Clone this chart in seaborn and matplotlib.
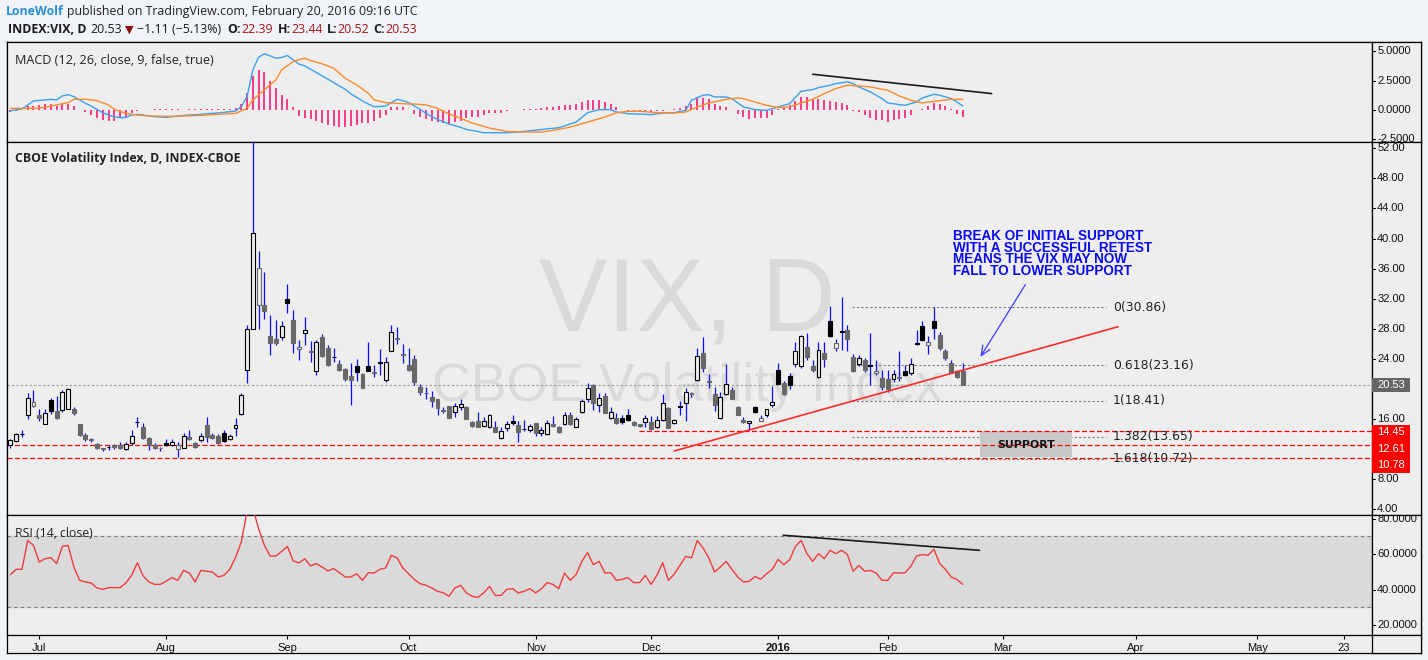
import numpy as np
import pandas as pd
import matplotlib
matplotlib.use("Agg")
import matplotlib.pyplot as plt
import seaborn as sns
from matplotlib.patches import Rectangle

# ---------------- data ----------------
open_ = [12.6, 13.1, 14.0, 16.6, 17.7, 16.6, 15.4, 18.5, 17.1, 17.2, 17.4, 17.4, 15.3, 13.9, 13.4, 12.7, 12.1, 12.22, 12.6, 12.6,
         12.0, 12.8, 15.55, 14.9, 13.5, 12.6, 12.2, 12.8, 12.6, 12.0, 12.1, 13.6, 12.8, 13.2, 15.2, 13.9, 13.8, 14.2, 13.3, 14.8,
         16.7, 22.5, 28.03, 31.1, 31.2, 27.1, 26.7, 26.9, 32.0, 29.2, 25.3, 27.4, 25.1, 22.4, 26.9, 25.5, 24.3, 23.3, 22.7, 21.7,
         23.1, 22.0, 23.0, 22.2, 23.52, 21.2, 25.0, 26.6, 24.6, 23.2, 24.0, 20.3, 19.5, 18.9, 18.7, 17.15, 17.7, 17.0, 17.6, 17.6,
         15.65, 15.7, 15.1, 15.0, 15.0, 13.44, 14.8, 15.7, 15.2, 14.7, 14.5, 15.5, 14.2, 14.0, 15.3, 15.0, 15.3, 16.6, 15.0, 17.0,
         18.6, 20.5, 17.9, 19.1, 16.2, 16.2, 16.2, 16.5, 15.6, 15.35, 15.6, 15.6, 15.0, 15.9, 17.5, 15.5, 17.75, 18.1, 19.45, 21.2,
         24.8, 21.0, 19.3, 16.1, 19.3, 19.8, 17.6, 15.9, 15.45, 17.6, 15.8, 16.5, 17.9, 22.5, 20.75, 21.7, 23.3, 23.0, 25.6, 23.1,
         21.6, 24.8, 29.0, 25.4, 27.7, 27.8, 24.2, 23.3, 23.85, 23.2, 22.1, 21.5, 21.3, 21.3, 21.4, 22.4, 22.1, 26.1, 28.4, 25.8,
         29.0, 27.2, 25.05, 23.4, 22.4, 22.39]
high = [13.4, 14.1, 14.5, 19.5, 19.9, 17.3, 17.4, 18.8, 19.1, 19.9, 20.1, 17.6, 15.4, 14.1, 13.5, 12.8, 12.1, 12.5, 12.7, 12.9,
        13.0, 14.6, 16.3, 15.5, 13.6, 12.8, 12.3, 13.3, 13.3, 13.0, 14.2, 14.5, 12.9, 14.2, 16.3, 14.1, 14.0, 14.6, 14.0, 16.1,
        19.5, 28.5, 53.29, 38.3, 35.6, 29.9, 29.2, 29.1, 34.0, 30.5, 26.5, 29.6, 26.4, 26.5, 27.3, 25.9, 25.4, 23.9, 22.8, 23.5,
        24.0, 22.1, 26.3, 23.2, 25.3, 24.3, 28.5, 28.2, 26.0, 25.4, 24.5, 20.6, 20.3, 19.7, 18.7, 17.6, 17.7, 18.1, 18.6, 17.7,
        15.8, 16.9, 16.3, 16.7, 15.8, 15.0, 15.8, 16.5, 15.7, 15.9, 15.4, 15.5, 15.0, 15.9, 16.4, 15.1, 17.0, 16.9, 16.3, 18.7,
        20.75, 20.6, 19.4, 19.5, 17.6, 16.8, 16.5, 17.3, 15.7, 15.4, 16.5, 16.4, 16.4, 19.3, 17.6, 16.0, 18.4, 20.1, 19.6, 25.4,
        26.95, 22.0, 20.2, 19.6, 23.3, 20.3, 17.7, 16.3, 15.8, 17.8, 16.5, 17.4, 20.4, 23.5, 21.0, 22.1, 26.2, 27.2, 27.5, 23.9,
        26.3, 26.3, 31.0, 26.6, 32.2, 28.5, 24.6, 24.5, 24.1, 27.4, 23.8, 22.5, 22.5, 22.5, 25.0, 23.2, 24.1, 27.9, 29.0, 27.0,
        30.9, 27.6, 25.3, 23.9, 22.5, 23.44]
low = [12.1, 12.9, 13.6, 16.0, 17.6, 15.8, 15.3, 16.7, 16.0, 16.9, 17.3, 16.6, 13.8, 13.1, 13.0, 12.0, 11.8, 11.9, 12.0, 12.0,
       11.9, 12.6, 15.0, 13.3, 11.9, 12.0, 11.8, 12.4, 12.4, 11.0, 12.1, 13.2, 12.2, 13.0, 13.0, 13.3, 12.7, 12.9, 13.2, 13.8,
       16.5, 20.8, 28.0, 28.0, 29.3, 24.5, 25.9, 26.5, 30.1, 24.8, 23.8, 25.8, 23.6, 21.8, 24.3, 23.1, 23.6, 22.4, 21.1, 17.9,
       21.1, 20.1, 22.4, 21.6, 21.9, 20.9, 25.0, 26.0, 23.4, 22.4, 20.5, 19.2, 18.7, 17.6, 16.5, 16.8, 16.1, 16.3, 17.2, 16.0,
       14.9, 14.9, 14.9, 14.8, 14.3, 13.3, 14.4, 15.2, 12.9, 14.4, 14.3, 13.7, 13.7, 13.9, 14.95, 14.2, 15.2, 15.2, 14.9, 16.8,
       18.3, 17.2, 17.0, 16.8, 16.0, 15.3, 15.3, 15.8, 15.1, 14.9, 15.0, 14.5, 14.8, 15.8, 14.8, 15.4, 16.5, 15.8, 18.9, 21.0,
       22.3, 20.1, 17.1, 16.0, 19.2, 18.6, 16.5, 15.5, 14.5, 16.8, 15.7, 16.3, 17.6, 20.6, 19.2, 20.0, 22.9, 22.8, 23.9, 22.3,
       21.5, 22.9, 26.9, 25.0, 25.2, 25.1, 22.2, 23.1, 22.3, 20.5, 21.8, 19.9, 19.6, 20.9, 21.0, 21.7, 21.9, 25.8, 26.4, 24.6,
       26.7, 25.2, 23.9, 22.1, 21.5, 20.52]
close = [13.26, 14.01, 14.02, 18.85, 18.23, 16.09, 16.79, 17.01, 16.09, 19.66, 19.97, 16.83, 13.90, 13.37, 13.23, 12.11, 11.95, 12.25, 12.22, 12.12,
         12.64, 13.74, 15.60, 13.44, 12.50, 12.13, 12.12, 12.56, 13.00, 12.51, 13.77, 13.39, 12.23, 13.71, 13.61, 13.49, 12.83, 13.02, 13.79, 15.25,
         19.14, 28.03, 40.74, 36.02, 30.32, 26.10, 26.05, 28.43, 31.40, 26.09, 25.61, 27.80, 24.90, 26.23, 24.37, 23.20, 24.25, 22.54, 21.35, 21.14,
         22.28, 20.14, 22.44, 22.13, 23.47, 23.62, 27.63, 26.83, 24.50, 22.55, 20.94, 19.54, 19.40, 18.40, 17.42, 17.08, 16.17, 17.67, 18.03, 16.05,
         15.05, 14.98, 15.70, 16.60, 14.33, 14.37, 15.29, 15.43, 14.33, 14.61, 15.07, 14.15, 14.54, 15.51, 15.05, 14.33, 16.52, 15.30, 16.00, 18.40,
         20.08, 18.10, 18.84, 16.85, 16.99, 15.47, 15.62, 15.93, 15.19, 15.12, 16.13, 14.67, 15.90, 18.11, 14.81, 15.84, 17.60, 19.61, 19.34, 24.39,
         22.73, 20.95, 17.86, 18.94, 20.70, 18.70, 16.60, 15.57, 15.74, 16.91, 16.08, 17.29, 18.21, 20.70, 19.34, 20.59, 24.99, 27.01, 24.30, 22.47,
         25.22, 23.95, 27.02, 26.05, 27.59, 26.69, 22.34, 24.15, 22.50, 23.11, 22.42, 20.20, 19.98, 21.98, 21.65, 21.84, 23.38, 26.00, 26.54, 26.29,
         28.14, 25.40, 24.11, 22.31, 21.64, 20.53]

macd_bars = [0, 2, 4, 6, 7, 8, 9, 10, 11, 12, 13, 14, 15, 16, 17, 18, 19, 20, 21, 22, 23, 25, 27, 29, 31, 33, 35, 37, 39, 40,
             41, 42, 43, 44, 45, 46, 47, 48, 49, 50, 51, 52, 53, 54, 55, 56, 57, 58, 59, 60, 61, 62, 63, 64, 65, 66, 67, 68, 69, 70,
             71, 72, 73, 74, 75, 76, 77, 78, 79, 80, 82, 86, 89, 92, 95, 98, 100, 102, 104, 105, 107, 110, 111, 113, 115, 117, 118, 120,
             121, 122, 124, 125, 127, 129, 131, 132, 134, 135, 137, 139, 140, 142, 143, 145, 146, 147, 149, 151, 152, 154, 155, 157, 158,
             160, 161, 163, 164, 165]
macd_vals = [-0.06, 0.09, 0.77, 0.86, 0.91, 0.86, 1.20, 1.31, 1.14, 0.86, 0.57, 0.34, 0.06, -0.23, -0.43, -0.57, -0.66, -0.63, -0.43, -0.37,
             -0.43, -0.57, -0.63, -0.51, -0.43, -0.37, -0.29, -0.20, -0.09, 0.29, 1.14, 3.42, 4.51, 4.79, 4.62, 4.42, 4.48, 4.65, 4.28, 3.91,
             3.77, 3.48, 3.20, 2.91, 2.63, 2.34, 2.05, 1.77, 1.37, 1.08, 0.77, 0.51, 0.29, 0.29, 0.34, 0.63, 0.91, 0.80, 0.63, 0.34,
             0.06, -0.29, -0.57, -0.80, -1.00, -1.20, -1.34, -1.48, -1.66, -1.74, -1.94, -1.94, -1.83, -1.66, -1.51, -1.03, -0.23, 0.03,
             0.03, -0.17, -0.31, -0.37, -0.40, -0.26, -0.23, -0.03, 0.83, 1.26, 1.31, 1.11, 1.11, 0.97, 0.26, 0.03, -0.03, 0.11, 0.40,
             0.54, 1.60, 1.74, 1.91, 2.11, 2.25, 2.40, 2.25, 1.97, 1.54, 0.97, 0.60, 0.46, 0.40, 0.68, 1.03, 1.34, 1.26, 0.97, 0.68, 0.34]
signal_bars = [0, 2, 4, 6, 7, 10, 11, 13, 15, 17, 18, 20, 22, 24, 27, 30, 33, 36, 39, 41, 42, 44, 46, 47, 49, 51, 52, 54, 56, 58,
               60, 62, 63, 65, 67, 69, 70, 72, 74, 76, 78, 80, 83, 86, 89, 92, 94, 97, 100, 103, 105, 107, 109, 112, 115, 117, 119,
               121, 124, 126, 127, 129, 131, 133, 135, 137, 139, 141, 143, 145, 147, 149, 152, 154, 156, 158, 160, 163, 165]
signal_vals = [0.14, 0.14, 0.14, 0.23, 0.34, 0.63, 0.91, 0.91, 0.80, 0.43, 0.06, -0.29, -0.43, -0.51, -0.54, -0.51, -0.46, -0.37, -0.29, 0.14,
               0.86, 1.71, 2.57, 3.42, 4.14, 4.42, 4.22, 3.94, 3.57, 2.71, 2.14, 1.43, 0.86, 0.63, 0.57, 0.51, 0.51, 0.43, 0.14, -0.34,
               -0.71, -1.11, -1.54, -1.83, -1.88, -1.88, -1.74, -1.46, -1.03, -0.60, -0.23, -0.11, -0.11, -0.23, -0.26, -0.17, 0.26,
               0.60, 0.91, 1.03, 0.97, 0.68, 0.40, 0.20, 0.26, 0.60, 0.91, 1.40, 1.83, 2.11, 2.05, 1.97, 1.68, 1.20, 0.83, 0.60, 0.74,
               0.91, 0.91]
hist = [-0.20, -0.10, 0.00, 0.30, 0.34, 0.43, 0.49, 0.49, 0.37, 0.51, 0.51, 0.34, 0.00, -0.20, -0.43, -0.71, -0.86, -0.91, -0.91, -0.71,
        -0.57, -0.29, -0.09, 0.00, 0.00, 0.05, 0.05, 0.05, 0.05, 0.05, 0.00, 0.05, 0.05, 0.05, 0.06, 0.06, 0.06, 0.06, 0.08, 0.20,
        0.50, 1.43, 2.91, 3.42, 3.20, 2.48, 1.86, 1.28, 0.94, 0.23, -0.51, -0.71, -0.80, -0.91, -1.08, -1.28, -1.37, -1.43, -1.43, -1.37,
        -1.28, -1.14, -1.08, -0.91, -0.71, -0.43, 0.23, 0.29, 0.23, 0.00, -0.34, -0.57, -0.80, -0.91, -1.00, -1.08, -1.20, -1.00, -0.91, -0.71,
        -0.63, -0.60, -0.40, -0.23, -0.23, -0.23, -0.10, 0.00, 0.03, 0.06, 0.06, 0.11, 0.17, 0.23, 0.26, 0.31, 0.40, 0.46, 0.49, 0.68,
        0.83, 0.83, 0.83, 0.68, 0.54, 0.23, 0.00, -0.15, -0.20, -0.20, -0.15, -0.15, -0.10, -0.05, 0.00, 0.06, 0.17, 0.34, 0.54, 1.03,
        1.03, 0.97, 0.54, 0.34, 0.29, -0.03, -0.31, -0.60, -0.74, -0.68, -0.68, -0.68, -0.40, 0.11, 0.26, 0.40, 0.74, 1.11, 1.11, 0.97,
        0.91, 0.83, 0.74, 0.68, 0.60, 0.46, -0.05, -0.20, -0.40, -0.68, -0.88, -0.88, -1.03, -0.88, -0.74, -0.68, -0.40, 0.00, 0.11, 0.31,
        0.60, 0.54, 0.34, 0.05, -0.30, -0.60]
rsi = [48.4, 51.4, 51.4, 67.7, 64.9, 55.5, 57.4, 58.0, 54.6, 64.3, 64.9, 52.7, 45.2, 44.3, 43.7, 40.9, 40.1, 41.1, 41.1, 41.1,
       43.7, 48.0, 55.1, 47.6, 44.3, 42.9, 42.9, 44.8, 46.7, 45.2, 50.8, 49.3, 44.3, 50.8, 50.3, 49.9, 47.1, 48.0, 51.4, 58.0,
       66.8, 84.0, 86.0, 74.3, 64.9, 58.9, 58.9, 61.5, 64.3, 56.1, 55.0, 57.4, 53.3, 54.6, 52.7, 50.5, 51.8, 49.5, 47.1, 47.1,
       48.9, 45.2, 49.5, 49.3, 51.4, 52.1, 59.3, 57.8, 52.1, 48.9, 45.6, 43.3, 42.4, 40.9, 39.0, 38.2, 36.2, 40.9, 42.4, 38.1,
       36.2, 35.6, 38.1, 41.8, 36.7, 36.7, 40.1, 40.5, 38.1, 39.0, 40.5, 38.1, 40.5, 43.9, 42.9, 40.5, 49.3, 45.2, 48.4, 55.9,
       60.8, 54.0, 55.9, 49.3, 49.5, 45.2, 45.8, 46.7, 43.9, 43.9, 48.0, 42.9, 48.0, 55.1, 45.2, 48.6, 53.6, 58.7, 57.8, 67.7,
       63.4, 57.8, 49.9, 52.7, 55.9, 51.4, 47.1, 44.3, 44.6, 47.4, 45.8, 48.9, 51.4, 57.0, 54.0, 56.8, 64.3, 67.7, 60.2, 55.9,
       60.2, 57.4, 62.1, 60.2, 62.1, 59.8, 50.3, 53.6, 50.3, 50.8, 49.3, 45.2, 45.2, 49.5, 49.3, 49.5, 53.1, 58.9, 59.7, 59.3,
       62.7, 54.6, 51.4, 47.1, 45.6, 42.9]

first_day = '2015-06-24'
holidays = ['2015-07-03', '2015-09-07', '2015-11-26', '2015-12-25', '2016-01-01', '2016-01-18', '2016-02-15']
fib_levels = [30.86, 23.16, 18.41, 13.65, 10.72]
fib_labels = ['0(30.86)', '0.618(23.16)', '1(18.41)', '1.382(13.65)', '1.618(10.72)']
support_levels = [14.45, 12.61, 10.78]
last_close = 20.53
main_ticks = [4, 8, 16, 24, 28, 32, 36, 40, 44, 48, 52]
macd_ticks = [5.0, 2.5, 0.0, -2.5]
rsi_ticks = [80, 60, 40, 20]
annotation_lines = ['BREAK OF INITIAL SUPPORT', 'WITH A SUCCESSFUL RETEST',
                    'MEANS THE VIX MAY NOW', 'FALL TO LOWER SUPPORT']

# ---------------- style ----------------
sns.set_style("white")
plt.rcParams['font.family'] = ['DejaVu Sans']

W, H = 1428, 660
fig = plt.figure(figsize=(W / 100, H / 100), dpi=100)
BG_OUT = '#f0f3f7'
BG = '#eeeeee'
fig.patch.set_facecolor(BG_OUT)
renderer = fig.canvas.get_renderer()


def axes_px(x0, y0, x1, y1):
    ax = fig.add_axes([x0 / W, 1 - y1 / H, (x1 - x0) / W, (y1 - y0) / H])
    ax.set_facecolor(BG)
    for s in ax.spines.values():
        s.set_color('black')
        s.set_linewidth(0.9)
    ax.set_xticks([])
    ax.set_yticks([])
    return ax


def fit(t, target_w):
    w = t.get_window_extent(renderer).width
    t.set_fontsize(t.get_fontsize() * target_w / w)
    return t.get_fontsize()


L, R, RR = 7, 1372, 1421
T, Y1, Y2, Y3, B = 42, 142, 515, 634.5, 653
frame = axes_px(L, T, RR, B)
ax_m = axes_px(L, T, R, Y1)
ax_p = axes_px(L, Y1, R, Y2)
ax_r = axes_px(L, Y2, R, Y3)
s_m = axes_px(R, T, RR, Y1)
s_p = axes_px(R, Y1, RR, Y2)
s_r = axes_px(R, Y2, RR, Y3)
s_b = axes_px(R, Y3, RR, B)

XLIM = (-0.59, 235.9)
YM, YP, YR = (-2.73, 5.80), (3.24, 52.84), (14.68, 82.0)

n = len(close)
idx = np.arange(n)
o, h, l, c = map(np.array, (open_, high, low, close))

# ---------------- main candles ----------------
prev = np.r_[c[0], c[:-1]]
cols = np.where(c >= prev, '#000000', '#686868')
ax_p.vlines(idx, l, h, color='#0a0aff', lw=0.9, zorder=3)
for i in idx:
    bottom = min(o[i], c[i])
    height = max(abs(c[i] - o[i]), 0.05)
    hollow = c[i] > o[i]
    ax_p.bar(i, height, bottom=bottom, width=0.68,
             facecolor=BG if hollow else cols[i], edgecolor=cols[i],
             linewidth=0.8, zorder=4)

ax_p.axhline(last_close, color='#9a9a9a', lw=0.8, ls=(0, (2, 2)), zorder=2)
ax_p.hlines(support_levels[0], 108.9, XLIM[1], color='#ff0000', lw=0.9, ls=(0, (4, 2)), zorder=3)
for lv in support_levels[1:]:
    ax_p.axhline(lv, color='#ff0000', lw=0.9, ls=(0, (4, 2)), zorder=3)
for lv, lab in zip(fib_levels, fib_labels):
    ax_p.hlines(lv, 145.8, 189.9, color='#7a7a7a', lw=0.8, ls=(0, (2, 2)), zorder=2)
fib_txt = [ax_p.text(191.0, lv, lab, ha='left', va='center', fontsize=8, color='#222222', zorder=6)
           for lv, lab in zip(fib_levels, fib_labels)]
fs = fit(fib_txt[1], 80.7)
for t in fib_txt:
    t.set_fontsize(fs)

# trend line, arrow, support box
ax_p.plot([115.0, 191.9], [11.75, 28.28], color='#ff2a2a', lw=1.2, zorder=5)
ax_p.annotate('', xy=(167.8, 23.95), xytext=(176.1, 34.19),
              arrowprops=dict(arrowstyle='->,head_length=0.7,head_width=0.3', color='#3b3bff', lw=0.9),
              zorder=6)
ax_p.add_patch(Rectangle((167.9, 10.91), 16.0, 3.5, facecolor='#c8c8c8', edgecolor='none', zorder=2.5))
sup = ax_p.text(175.9, 12.55, 'SUPPORT', ha='center', va='center', fontsize=8, weight='bold',
                color='#111111', zorder=6)
fit(sup, 57.7)
ann_y = [40.36, 38.80, 37.23, 35.70]
ann = [ax_p.text(163.25, yy, s, ha='left', va='center', fontsize=9, weight='bold', family='Liberation Sans',
                 color='#0a0af0', zorder=6) for s, yy in zip(annotation_lines, ann_y)]
fs = fit(ann[0], 191)
for t in ann:
    t.set_fontsize(fs)

# watermark
wm1 = ax_p.text(0.4985, 0.4933, 'VIX, D', transform=ax_p.transAxes, ha='center', va='baseline',
                fontsize=70, family='Liberation Sans', color='#dadada', zorder=0.5)
fit(wm1, 297)
wm2 = ax_p.text(0.4985, 0.3056, 'CBOE Volatility Index', transform=ax_p.transAxes, ha='center',
                va='baseline', fontsize=38, family='Liberation Sans', color='#dadada', zorder=0.5)
fit(wm2, 509)

ax_p.set_xlim(*XLIM)
ax_p.set_ylim(*YP)

# ---------------- MACD ----------------
ax_m.vlines(idx, 0, hist, color='#ff1a75', lw=1.2, zorder=2)
sns.lineplot(x=macd_bars, y=macd_vals, ax=ax_m, color='#3aa0f0', lw=1.0, zorder=3)
sns.lineplot(x=signal_bars, y=signal_vals, ax=ax_m, color='#ff8a2a', lw=1.0, zorder=3)
ax_m.plot([139.0, 170.0], [3.05, 1.40], color='#1a1a1a', lw=1.2, zorder=4)
ax_m.set_xlim(*XLIM)
ax_m.set_ylim(*YM)

# ---------------- RSI ----------------
ax_r.axhspan(30, 70, color='#dadada', zorder=0.2)
for lv in (70, 30):
    ax_r.axhline(lv, color='#7a7a7a', lw=0.8, ls=(0, (3, 3)), zorder=1)
sns.lineplot(x=idx, y=rsi, ax=ax_r, color='#f03c3c', lw=1.0, zorder=3)
ax_r.plot([133.9, 167.9], [70.6, 62.1], color='#1a1a1a', lw=1.2, zorder=4)
ax_r.set_xlim(*XLIM)
ax_r.set_ylim(*YR)

for ax in (ax_m, ax_p, ax_r):
    ax.set_xlabel('')
    ax.set_ylabel('')
    ax.set_yticks([])

# x-axis labels from a trading-day calendar
cal = pd.bdate_range(first_day, '2016-06-30', freq='C', holidays=holidays)
pos, labs = [], []
for k in range(1, len(cal)):
    if cal[k].month != cal[k - 1].month:
        pos.append(k)
        labs.append('2016' if cal[k].month == 1 else cal[k].strftime('%b'))
k23 = int(np.where(cal == pd.Timestamp('2016-05-23'))[0][0])
pos.append(k23)
labs.append('23')
keep = [(p, s) for p, s in zip(pos, labs) if p <= XLIM[1]]
ax_r.set_xticks([p for p, _ in keep])
ax_r.set_xticklabels([s for _, s in keep], fontsize=8, family='Liberation Sans', color='#111111')
ax_r.tick_params(axis='x', direction='out', length=3, width=0.8, color='black', pad=3, bottom=True)
for tl in ax_r.get_xticklabels():
    if tl.get_text() == '2016':
        tl.set_weight('bold')
ax_m.set_xticks([])
ax_p.set_xticks([])

# ---------------- right price strips ----------------


def strip(ax, ylim, ticks, fmt):
    ax.set_xlim(0, 1)
    ax.set_ylim(*ylim)
    for v in ticks:
        ax.plot([0, 0.07], [v, v], color='black', lw=0.8, clip_on=True)
        ax.text(0.105, v, fmt(v), ha='left', va='center', fontsize=8, family='Liberation Sans',
                color='#111111', clip_on=True)


strip(s_m, YM, macd_ticks, lambda v: f'{v:.4f}')
strip(s_p, YP, main_ticks, lambda v: f'{v:.2f}')
strip(s_r, YR, rsi_ticks, lambda v: f'{v:.4f}')

s_p.add_patch(Rectangle((0, 19.62), 0.776, 1.86, facecolor='#666666', edgecolor='none', zorder=5))
s_p.text(0.105, 20.55, f'{last_close:.2f}', ha='left', va='center', fontsize=8,
         family='Liberation Sans', color='white', zorder=6)
s_p.add_patch(Rectangle((0, 8.87), 0.776, 6.33, facecolor='#ff0000', edgecolor='none', zorder=5))
for lv, yy in zip(support_levels, [14.24, 12.02, 9.89]):
    s_p.text(0.105, yy, f'{lv:.2f}', ha='left', va='center', fontsize=8,
             family='Liberation Sans', color='white', zorder=6)

# ---------------- pane titles ----------------
t1 = ax_m.text(0.00586, 0.81, 'MACD (12, 26, close, 9, false, true)', transform=ax_m.transAxes,
               ha='left', va='center', fontsize=8, family='Open Sans', color='#222222', zorder=6)
fit(t1, 198)
t2 = ax_p.text(0.00586, 0.9552, 'CBOE Volatility Index, D, INDEX-CBOE', transform=ax_p.transAxes,
               ha='left', va='center', fontsize=8, family='Open Sans', weight='bold', color='#222222', zorder=6)
fit(t2, 224)
t3 = ax_r.text(0.00586, 0.849, 'RSI (14, close)', transform=ax_r.transAxes,
               ha='left', va='center', fontsize=8, family='Open Sans', color='#222222', zorder=6)
fit(t3, 78)

# ---------------- header ----------------


def ftext(xp, yp, s, **kw):
    return fig.text(xp / W, 1 - yp / H, s, ha='left', va='center', **kw)


hp = ftext(66.7, 11.7, 'published on TradingView.com, February 20, 2016 09:16 UTC',
           fontsize=9, family='Open Sans', color='#222222')
hfs = fit(hp, 351)
ftext(6, 11.7, 'LoneWolf', fontsize=hfs, family='Open Sans', weight='bold', color='#2b8ed6')

dark, red = '#1a1a1a', '#a51616'
probe = ftext(137, 29.7, '\u22121.11 (\u22125.13%)', fontsize=9, family=['Open Sans', 'DejaVu Sans'], color=dark)
lfs = fit(probe, 84)
pieces = [(8, 'INDEX:VIX, D', 'bold', dark), (90, '20.53', 'normal', dark),
          (227, 'O:', 'bold', dark), (241, '22.39', 'normal', red),
          (278, 'H:', 'bold', dark), (291, '23.44', 'normal', red),
          (327, 'L:', 'bold', dark), (337, '20.52', 'normal', red),
          (373, 'C:', 'bold', dark), (385, '20.53', 'normal', red)]
for xp, s, wt, col in pieces:
    ftext(xp, 29.7, s, fontsize=lfs, family='Open Sans', weight=wt, color=col)
ftext(124.5, 29.7, '\u25bc', fontsize=lfs * 0.9, family='DejaVu Sans', color='#8b1010')

fig.savefig('out.png', dpi=100, facecolor=fig.get_facecolor())
